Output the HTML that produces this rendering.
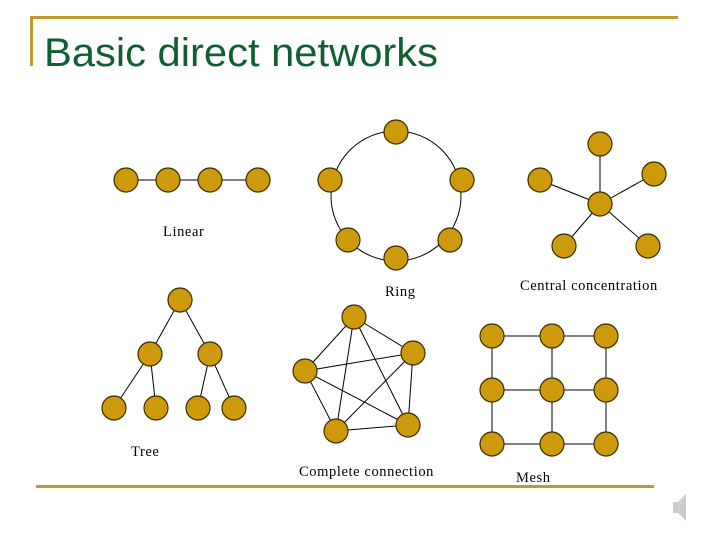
<!DOCTYPE html>
<html><head><meta charset="utf-8"><style>
body{margin:0;width:720px;height:540px;background:#fff;overflow:hidden;}
</style></head><body>
<svg width="720" height="540" xmlns="http://www.w3.org/2000/svg">
<rect x="30" y="16" width="648" height="3" fill="#c09a2a"/>
<rect x="30" y="16" width="3" height="50" fill="#c09a2a"/>
<rect x="36" y="485" width="618" height="3" fill="#c09a2a"/>
<text x="44" y="66" font-family="Liberation Sans, sans-serif" font-size="40" textLength="394" lengthAdjust="spacingAndGlyphs" fill="#0f5f32">Basic direct networks</text>
<g stroke="#000" stroke-width="1" fill="none">
<line x1="126" y1="180" x2="258" y2="180"/>
<circle cx="396" cy="196" r="65"/>
<line x1="600" y1="144" x2="600" y2="204"/><line x1="540" y1="180" x2="600" y2="204"/>
<line x1="654" y1="174" x2="600" y2="204"/><line x1="564" y1="246" x2="600" y2="204"/>
<line x1="648" y1="246" x2="600" y2="204"/>
<line x1="180" y1="300" x2="150" y2="354"/><line x1="180" y1="300" x2="210" y2="354"/>
<line x1="150" y1="354" x2="114" y2="408"/><line x1="150" y1="354" x2="156" y2="408"/>
<line x1="210" y1="354" x2="198" y2="408"/><line x1="210" y1="354" x2="234" y2="408"/>
<path d="M354 317L413 353L305 371L336 431L408 425Z M354 317L305 371 M354 317L336 431 M354 317L408 425 M413 353L336 431 M413 353L408 425 M305 371L408 425"/>
<path d="M492 336H606M492 390H606M492 444H606M492 336V444M552 336V444M606 336V444"/>
</g>
<g fill="#cc9a0a" stroke="#3a2a00" stroke-width="1.2">
<circle cx="126" cy="180" r="12"/><circle cx="168" cy="180" r="12"/><circle cx="210" cy="180" r="12"/><circle cx="258" cy="180" r="12"/>
<circle cx="396" cy="132" r="12"/><circle cx="330" cy="180" r="12"/><circle cx="462" cy="180" r="12"/><circle cx="348" cy="240" r="12"/><circle cx="450" cy="240" r="12"/><circle cx="396" cy="258" r="12"/>
<circle cx="600" cy="144" r="12"/><circle cx="600" cy="204" r="12"/><circle cx="540" cy="180" r="12"/><circle cx="654" cy="174" r="12"/><circle cx="564" cy="246" r="12"/><circle cx="648" cy="246" r="12"/>
<circle cx="180" cy="300" r="12"/><circle cx="150" cy="354" r="12"/><circle cx="210" cy="354" r="12"/><circle cx="114" cy="408" r="12"/><circle cx="156" cy="408" r="12"/><circle cx="198" cy="408" r="12"/><circle cx="234" cy="408" r="12"/>
<circle cx="354" cy="317" r="12"/><circle cx="413" cy="353" r="12"/><circle cx="305" cy="371" r="12"/><circle cx="336" cy="431" r="12"/><circle cx="408" cy="425" r="12"/>
<circle cx="492" cy="336" r="12"/><circle cx="552" cy="336" r="12"/><circle cx="606" cy="336" r="12"/>
<circle cx="492" cy="390" r="12"/><circle cx="552" cy="390" r="12"/><circle cx="606" cy="390" r="12"/>
<circle cx="492" cy="444" r="12"/><circle cx="552" cy="444" r="12"/><circle cx="606" cy="444" r="12"/>
</g>
<g font-family="Liberation Serif, serif" font-size="14.5" fill="#000" letter-spacing="0.6">
<text x="163" y="236">Linear</text>
<text x="385" y="296">Ring</text>
<text x="520" y="290">Central concentration</text>
<text x="131" y="456">Tree</text>
<text x="299" y="476">Complete connection</text>
<text x="516" y="482">Mesh</text>
</g>
<path d="M673 502h5l8-8v27l-8-8h-5z" fill="#ccc"/>
</svg>
</body></html>
